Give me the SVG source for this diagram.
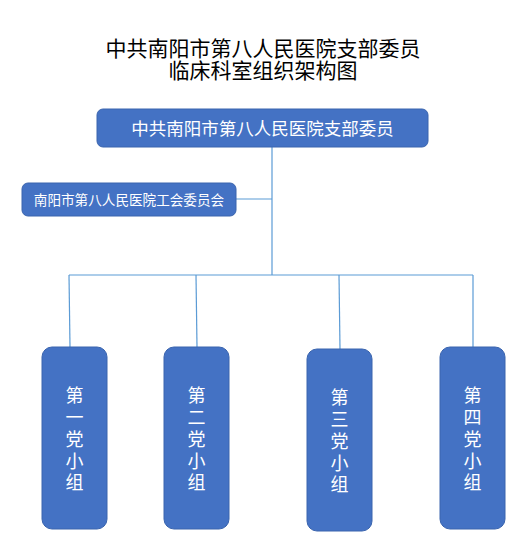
<svg xmlns="http://www.w3.org/2000/svg" width="523" height="556" viewBox="0 0 523 556">
<style>
.box{fill:#4472C4;stroke:#3A64AE;stroke-width:1}
.wt{fill:#FFFFFF;font-family:"Noto Sans CJK SC","Noto Sans",sans-serif;text-anchor:middle}
.title{fill:#000000;font-family:"Noto Sans CJK SC","Noto Sans",sans-serif;font-size:21px;text-anchor:middle}
.conn{stroke:#5B9BD5;stroke-width:1.2;fill:none}
.vt{font-size:18px}
</style>
<rect width="523" height="556" fill="#FFFFFF"/>
<g id="title">
<text class="title" x="263" y="56">中共南阳市第八人民医院支部委员</text>
<text class="title" x="263" y="78">临床科室组织架构图</text>
</g>
<g id="connectors">
<line class="conn" x1="272" y1="147" x2="272" y2="275"/>
<line class="conn" x1="236" y1="199" x2="272" y2="199"/>
<line class="conn" x1="69" y1="275" x2="473" y2="275"/>
<line class="conn" x1="69" y1="275" x2="70" y2="347"/>
<line class="conn" x1="196" y1="275" x2="197" y2="347"/>
<line class="conn" x1="339" y1="275" x2="340" y2="349"/>
<line class="conn" x1="473" y1="275" x2="473" y2="347"/>
</g>
<g id="node-top">
<rect class="box" x="97" y="109" width="331" height="38" rx="6"/>
<text class="wt" x="262.5" y="135" font-size="17.5">中共南阳市第八人民医院支部委员</text>
</g>
<g id="node-union">
<rect class="box" x="22" y="183" width="214" height="33" rx="6"/>
<text class="wt" x="129" y="204.5" font-size="13.6">南阳市第八人民医院工会委员会</text>
</g>
<g id="node-g1">
<rect class="box" x="42" y="347" width="65" height="182" rx="10"/>
<text class="wt vt" x="74.5"><tspan x="74.5" y="402">第</tspan><tspan x="74.5" y="424">一</tspan><tspan x="74.5" y="446">党</tspan><tspan x="74.5" y="468">小</tspan><tspan x="74.5" y="489">组</tspan></text>
</g>
<g id="node-g2">
<rect class="box" x="164" y="347" width="65" height="182" rx="10"/>
<text class="wt vt" x="196.5"><tspan x="196.5" y="402">第</tspan><tspan x="196.5" y="424">二</tspan><tspan x="196.5" y="446">党</tspan><tspan x="196.5" y="468">小</tspan><tspan x="196.5" y="489">组</tspan></text>
</g>
<g id="node-g3">
<rect class="box" x="307" y="349" width="65" height="182" rx="10"/>
<text class="wt vt" x="339.5"><tspan x="339.5" y="404">第</tspan><tspan x="339.5" y="426">三</tspan><tspan x="339.5" y="448">党</tspan><tspan x="339.5" y="470">小</tspan><tspan x="339.5" y="491">组</tspan></text>
</g>
<g id="node-g4">
<rect class="box" x="440" y="347" width="65" height="182" rx="10"/>
<text class="wt vt" x="472.5"><tspan x="472.5" y="402">第</tspan><tspan x="472.5" y="424">四</tspan><tspan x="472.5" y="446">党</tspan><tspan x="472.5" y="468">小</tspan><tspan x="472.5" y="489">组</tspan></text>
</g>
</svg>
